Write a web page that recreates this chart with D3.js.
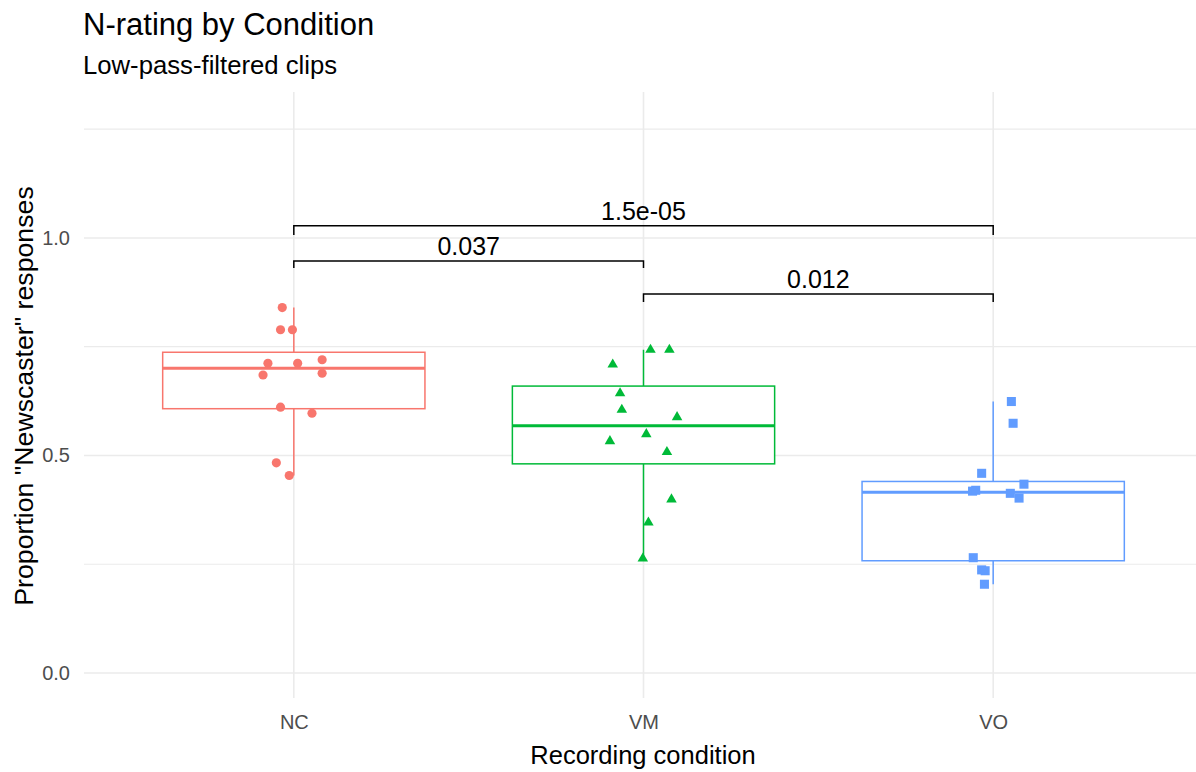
<!DOCTYPE html>
<html>
<head>
<meta charset="utf-8">
<script src="https://cdn.jsdelivr.net/npm/d3@7"></script>
<style>
    body { margin: 0; background: #fff; }
    text { font-family: "Liberation Sans", Arial, sans-serif; }
</style>
</head>
<body>
<div class="box-chart"></div>
<script>
(function() {

    var categories = ["NC", "VM", "VO"];
    var colors = ["#F8766D", "#00BA38", "#619CFF"];
    var shapes = [d3.symbolCircle, d3.symbolTriangle, d3.symbolSquare];

    // proportion of "Newscaster" responses per clip
    var ncValues = [0.840, 0.789, 0.789, 0.712, 0.712, 0.720, 0.685, 0.689, 0.611, 0.597, 0.483, 0.454];
    var vmValues = [0.743, 0.743, 0.709, 0.643, 0.605, 0.588, 0.549, 0.533, 0.508, 0.399, 0.346, 0.263];
    var voValues = [0.624, 0.574, 0.459, 0.434, 0.418, 0.420, 0.413, 0.402, 0.265, 0.237, 0.235, 0.204];

    // horizontal jitter, in category widths
    var ncJitter = [-0.033, -0.038, -0.004, -0.074, 0.011, 0.081, -0.088, 0.081, -0.038, 0.052, -0.050, -0.013];
    var vmJitter = [0.020, 0.074, -0.088, -0.067, -0.062, 0.096, 0.008, -0.096, 0.067, 0.080, 0.014, -0.002];
    var voJitter = [0.052, 0.057, -0.033, 0.088, -0.059, -0.050, 0.049, 0.074, -0.057, -0.033, -0.023, -0.025];

    var yTicks = [0, 0.5, 1.0];
    var yMinorTicks = [0.25, 0.75, 1.25];

    // significance brackets
    var bracketFrom = ["NC", "NC", "VM"];
    var bracketTo = ["VM", "VO", "VO"];
    var bracketTop = [0.947, 1.028, 0.871];
    var bracketTip = [0.931, 1.007, 0.853];
    var bracketLabels = ["0.037", "1.5e-05", "0.012"];

    var groups = [
        { name: "NC", values: ncValues, jitter: ncJitter },
        { name: "VM", values: vmValues, jitter: vmJitter },
        { name: "VO", values: voValues, jitter: voJitter }
    ];

    var W = 1196, H = 772;
    var panel = { left: 84, right: 1203, top: 92, bottom: 698 };

    var svg = d3.select(".box-chart").append("svg")
        .attr("width", W)
        .attr("height", H);

    var x = d3.scalePoint()
        .domain(categories)
        .range([panel.left, panel.right])
        .padding(0.6);

    var y = d3.scaleLinear()
        .domain([-0.0575, 1.3355])
        .range([panel.bottom, panel.top]);

    var color = d3.scaleOrdinal().domain(categories).range(colors);
    var shape = d3.scaleOrdinal().domain(categories).range(shapes);
    var step = x.step();
    var boxW = step * 0.75;

    // grid
    var grid = svg.append("g").attr("class", "grid");
    grid.selectAll(".minor")
        .data(yMinorTicks)
        .enter().append("line")
        .attr("x1", panel.left).attr("x2", panel.right)
        .attr("y1", function(d) { return y(d); })
        .attr("y2", function(d) { return y(d); })
        .attr("stroke", "#EBEBEB")
        .attr("stroke-width", 1.2);
    grid.selectAll(".major")
        .data(yTicks)
        .enter().append("line")
        .attr("x1", panel.left).attr("x2", panel.right)
        .attr("y1", function(d) { return y(d); })
        .attr("y2", function(d) { return y(d); })
        .attr("stroke", "#EBEBEB")
        .attr("stroke-width", 1.6);
    grid.selectAll(".vert")
        .data(categories)
        .enter().append("line")
        .attr("x1", function(d) { return x(d); })
        .attr("x2", function(d) { return x(d); })
        .attr("y1", panel.top).attr("y2", panel.bottom)
        .attr("stroke", "#EBEBEB")
        .attr("stroke-width", 1.6);

    // axes (no domain lines, no ticks as in theme_minimal)
    var yAxis = d3.axisLeft(y)
        .tickValues(yTicks)
        .tickSize(0)
        .tickPadding(14)
        .tickFormat(d3.format(".1f"));
    svg.append("g")
        .attr("class", "y axis")
        .attr("transform", "translate(" + panel.left + ",0)")
        .call(yAxis)
        .call(function(g) { g.select(".domain").remove(); })
        .selectAll("text")
        .style("font-size", "20px")
        .attr("fill", "#4D4D4D");

    var xAxis = d3.axisBottom(x)
        .tickSize(0)
        .tickPadding(17);
    svg.append("g")
        .attr("class", "x axis")
        .attr("transform", "translate(0," + panel.bottom + ")")
        .call(xAxis)
        .call(function(g) { g.select(".domain").remove(); })
        .selectAll("text")
        .style("font-size", "20px")
        .attr("fill", "#4D4D4D");

    // boxplots
    var boxes = svg.selectAll(".box")
        .data(groups.map(function(g) {
            var s = g.values.slice().sort(d3.ascending);
            var q1 = d3.quantile(s, 0.25), med = d3.quantile(s, 0.5), q3 = d3.quantile(s, 0.75);
            var iqr = q3 - q1;
            var lo = d3.min(s.filter(function(v) { return v >= q1 - 1.5 * iqr; }));
            var hi = d3.max(s.filter(function(v) { return v <= q3 + 1.5 * iqr; }));
            return { name: g.name, q1: q1, med: med, q3: q3, lo: lo, hi: hi };
        }))
        .enter().append("g")
        .attr("class", "box");

    boxes.append("line")
        .attr("x1", function(d) { return x(d.name); })
        .attr("x2", function(d) { return x(d.name); })
        .attr("y1", function(d) { return y(d.hi); })
        .attr("y2", function(d) { return y(d.q3); })
        .attr("stroke", function(d) { return color(d.name); })
        .attr("stroke-width", 1.5);
    boxes.append("line")
        .attr("x1", function(d) { return x(d.name); })
        .attr("x2", function(d) { return x(d.name); })
        .attr("y1", function(d) { return y(d.q1); })
        .attr("y2", function(d) { return y(d.lo); })
        .attr("stroke", function(d) { return color(d.name); })
        .attr("stroke-width", 1.5);
    boxes.append("rect")
        .attr("x", function(d) { return x(d.name) - boxW / 2; })
        .attr("width", boxW)
        .attr("y", function(d) { return y(d.q3); })
        .attr("height", function(d) { return y(d.q1) - y(d.q3); })
        .attr("fill", "#fff")
        .attr("stroke", function(d) { return color(d.name); })
        .attr("stroke-width", 1.5);
    boxes.append("line")
        .attr("x1", function(d) { return x(d.name) - boxW / 2; })
        .attr("x2", function(d) { return x(d.name) + boxW / 2; })
        .attr("y1", function(d) { return y(d.med); })
        .attr("y2", function(d) { return y(d.med); })
        .attr("stroke", function(d) { return color(d.name); })
        .attr("stroke-width", 3);

    // jittered points
    var symbolSize = { NC: 66, VM: 48, VO: 82 };
    groups.forEach(function(g) {
        svg.append("g").selectAll("path")
            .data(g.values.map(function(v, i) { return { v: v, j: g.jitter[i] }; }))
            .enter().append("path")
            .attr("d", d3.symbol().type(shape(g.name)).size(symbolSize[g.name]))
            .attr("transform", function(d) {
                return "translate(" + (x(g.name) + d.j * step) + "," + y(d.v) + ")";
            })
            .attr("fill", color(g.name));
    });

    // significance brackets
    var brackets = svg.selectAll(".bracket")
        .data(bracketLabels.map(function(l, i) {
            return { from: bracketFrom[i], to: bracketTo[i], top: bracketTop[i], tip: bracketTip[i], label: l };
        }))
        .enter().append("g")
        .attr("class", "bracket");

    brackets.append("path")
        .attr("d", function(d) {
            return "M" + x(d.from) + "," + y(d.tip) + "V" + y(d.top) + "H" + x(d.to) + "V" + y(d.tip);
        })
        .attr("fill", "none")
        .attr("stroke", "#000")
        .attr("stroke-width", 1.5);

    brackets.append("text")
        .attr("x", function(d) { return (x(d.from) + x(d.to)) / 2; })
        .attr("y", function(d) { return y(d.top) - 6; })
        .attr("text-anchor", "middle")
        .style("font-size", "25px")
        .attr("fill", "#000")
        .text(function(d) { return d.label; });

    // titles
    svg.append("text")
        .attr("x", 83).attr("y", 35)
        .style("font-size", "31px")
        .text("N-rating by Condition");
    svg.append("text")
        .attr("x", 83).attr("y", 74)
        .style("font-size", "25.7px")
        .text("Low-pass-filtered clips");
    svg.append("text")
        .attr("x", 643).attr("y", 764)
        .attr("text-anchor", "middle")
        .style("font-size", "25.5px")
        .text("Recording condition");
    svg.append("text")
        .attr("transform", "translate(33,396) rotate(-90)")
        .attr("text-anchor", "middle")
        .style("font-size", "26.7px")
        .text("Proportion \"Newscaster\" responses");

})();
</script>
</body>
</html>
